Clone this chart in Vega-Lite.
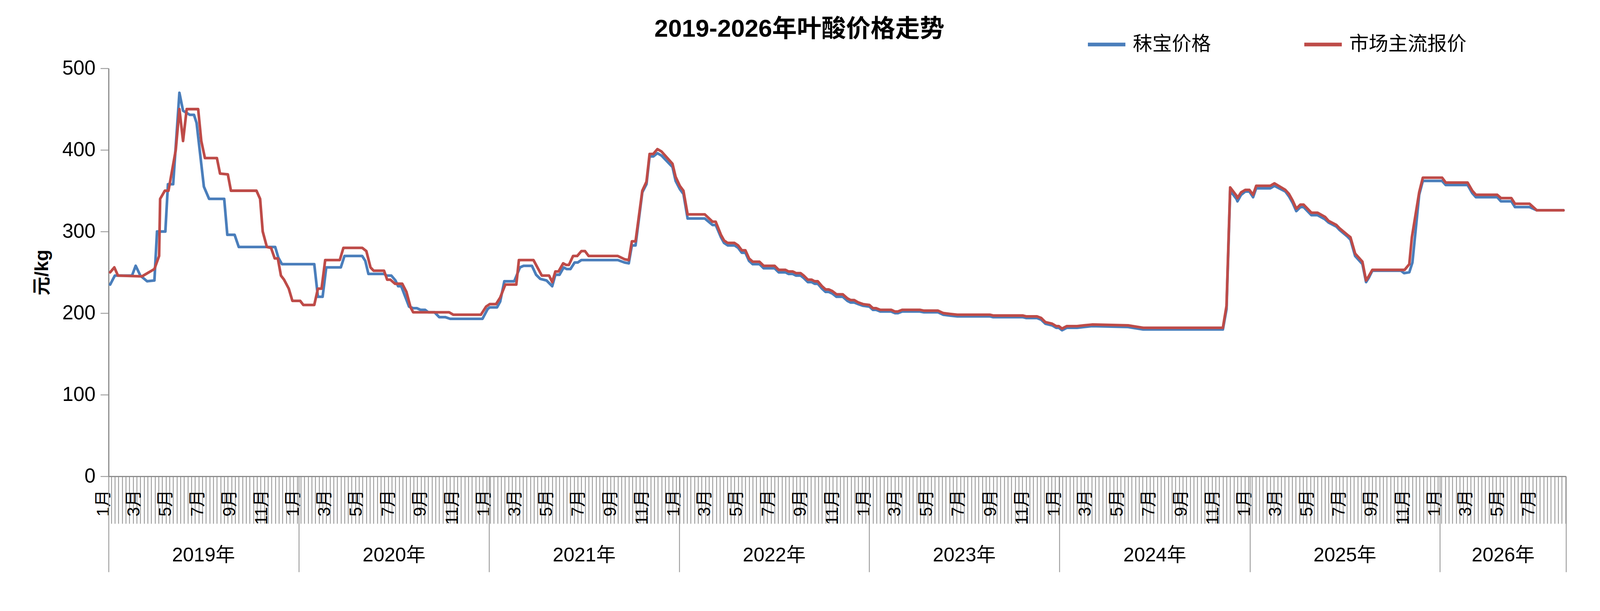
{
  "$schema": "https://vega.github.io/schema/vega-lite/v6.json",
  "autosize": {"type": "none"},
  "width": 3731,
  "height": 1045,
  "padding": {"left": 278, "top": 175, "right": 85, "bottom": 280},
  "background": "white",
  "title": {
    "text": "2019-2026年叶酸价格走势",
    "fontSize": 63,
    "fontWeight": "bold",
    "color": "black",
    "anchor": "middle",
    "frame": "group",
    "dx": -97,
    "dy": 96,
    "offset": 0,
    "baseline": "alphabetic"
  },
  "datasets": {
    "mobao": [
      {"date": "2019-01-04", "price": 235}, {"date": "2019-01-13", "price": 246}, {"date": "2019-02-15", "price": 246},
      {"date": "2019-02-22", "price": 258}, {"date": "2019-03-03", "price": 246}, {"date": "2019-03-16", "price": 239},
      {"date": "2019-03-30", "price": 240}, {"date": "2019-04-04", "price": 300}, {"date": "2019-04-20", "price": 300},
      {"date": "2019-04-25", "price": 358}, {"date": "2019-05-05", "price": 358}, {"date": "2019-05-17", "price": 470},
      {"date": "2019-05-24", "price": 448}, {"date": "2019-06-06", "price": 443}, {"date": "2019-06-14", "price": 443},
      {"date": "2019-06-19", "price": 433}, {"date": "2019-07-03", "price": 355}, {"date": "2019-07-13", "price": 340},
      {"date": "2019-08-11", "price": 340}, {"date": "2019-08-17", "price": 296}, {"date": "2019-08-31", "price": 296},
      {"date": "2019-09-08", "price": 281}, {"date": "2019-11-17", "price": 281}, {"date": "2019-11-23", "price": 268},
      {"date": "2019-11-30", "price": 260}, {"date": "2020-01-31", "price": 260}, {"date": "2020-02-07", "price": 220},
      {"date": "2020-02-16", "price": 220}, {"date": "2020-02-23", "price": 256}, {"date": "2020-03-22", "price": 256},
      {"date": "2020-03-29", "price": 270}, {"date": "2020-05-02", "price": 270}, {"date": "2020-05-08", "price": 264},
      {"date": "2020-05-14", "price": 248}, {"date": "2020-06-13", "price": 248}, {"date": "2020-06-18", "price": 246},
      {"date": "2020-06-27", "price": 246}, {"date": "2020-07-05", "price": 240}, {"date": "2020-07-10", "price": 233},
      {"date": "2020-07-16", "price": 233}, {"date": "2020-07-22", "price": 223}, {"date": "2020-07-31", "price": 208},
      {"date": "2020-08-08", "price": 206}, {"date": "2020-08-15", "price": 206}, {"date": "2020-08-22", "price": 204},
      {"date": "2020-08-31", "price": 204}, {"date": "2020-09-06", "price": 201}, {"date": "2020-09-18", "price": 201},
      {"date": "2020-09-27", "price": 195}, {"date": "2020-10-09", "price": 195}, {"date": "2020-10-18", "price": 193},
      {"date": "2020-12-19", "price": 193}, {"date": "2020-12-29", "price": 205}, {"date": "2021-01-02", "price": 207},
      {"date": "2021-01-16", "price": 207}, {"date": "2021-01-22", "price": 214}, {"date": "2021-01-30", "price": 239},
      {"date": "2021-02-18", "price": 239}, {"date": "2021-03-01", "price": 256}, {"date": "2021-03-08", "price": 258},
      {"date": "2021-03-24", "price": 258}, {"date": "2021-04-01", "price": 247}, {"date": "2021-04-09", "price": 242},
      {"date": "2021-04-21", "price": 240}, {"date": "2021-05-02", "price": 233}, {"date": "2021-05-08", "price": 247},
      {"date": "2021-05-16", "price": 247}, {"date": "2021-05-24", "price": 256}, {"date": "2021-05-30", "price": 254},
      {"date": "2021-06-06", "price": 254}, {"date": "2021-06-14", "price": 262}, {"date": "2021-06-20", "price": 262},
      {"date": "2021-06-27", "price": 265}, {"date": "2021-09-05", "price": 265}, {"date": "2021-09-18", "price": 262},
      {"date": "2021-09-26", "price": 261}, {"date": "2021-10-02", "price": 283}, {"date": "2021-10-09", "price": 283},
      {"date": "2021-10-22", "price": 348}, {"date": "2021-10-30", "price": 358}, {"date": "2021-11-05", "price": 392},
      {"date": "2021-11-12", "price": 392}, {"date": "2021-11-20", "price": 396}, {"date": "2021-11-28", "price": 393},
      {"date": "2021-12-19", "price": 379}, {"date": "2021-12-25", "price": 362}, {"date": "2022-01-02", "price": 352},
      {"date": "2022-01-09", "price": 346}, {"date": "2022-01-17", "price": 316}, {"date": "2022-02-19", "price": 316},
      {"date": "2022-03-06", "price": 308}, {"date": "2022-03-12", "price": 308}, {"date": "2022-03-22", "price": 293},
      {"date": "2022-03-28", "price": 286}, {"date": "2022-04-04", "price": 283}, {"date": "2022-04-17", "price": 283},
      {"date": "2022-04-24", "price": 280}, {"date": "2022-05-01", "price": 274}, {"date": "2022-05-08", "price": 274},
      {"date": "2022-05-15", "price": 264}, {"date": "2022-05-22", "price": 260}, {"date": "2022-06-04", "price": 260},
      {"date": "2022-06-12", "price": 255}, {"date": "2022-07-03", "price": 255}, {"date": "2022-07-11", "price": 250},
      {"date": "2022-07-24", "price": 250}, {"date": "2022-07-30", "price": 248}, {"date": "2022-08-07", "price": 248},
      {"date": "2022-08-13", "price": 246}, {"date": "2022-08-22", "price": 246}, {"date": "2022-08-28", "price": 243},
      {"date": "2022-09-05", "price": 238}, {"date": "2022-09-12", "price": 238}, {"date": "2022-09-18", "price": 236},
      {"date": "2022-09-24", "price": 236}, {"date": "2022-10-02", "price": 230}, {"date": "2022-10-09", "price": 226},
      {"date": "2022-10-15", "price": 226}, {"date": "2022-10-22", "price": 224}, {"date": "2022-10-30", "price": 220},
      {"date": "2022-11-11", "price": 220}, {"date": "2022-11-20", "price": 215}, {"date": "2022-11-26", "price": 213},
      {"date": "2022-12-03", "price": 213}, {"date": "2022-12-11", "price": 211}, {"date": "2022-12-20", "price": 209},
      {"date": "2023-01-01", "price": 208}, {"date": "2023-01-08", "price": 204}, {"date": "2023-01-14", "price": 204},
      {"date": "2023-01-22", "price": 202}, {"date": "2023-02-12", "price": 202}, {"date": "2023-02-19", "price": 200},
      {"date": "2023-02-25", "price": 200}, {"date": "2023-03-05", "price": 202}, {"date": "2023-04-08", "price": 202},
      {"date": "2023-04-16", "price": 201}, {"date": "2023-05-13", "price": 201}, {"date": "2023-05-23", "price": 198},
      {"date": "2023-06-05", "price": 197}, {"date": "2023-06-19", "price": 196}, {"date": "2023-08-21", "price": 196},
      {"date": "2023-08-27", "price": 195}, {"date": "2023-10-23", "price": 195}, {"date": "2023-10-29", "price": 194},
      {"date": "2023-11-19", "price": 194}, {"date": "2023-11-27", "price": 192}, {"date": "2023-12-05", "price": 187},
      {"date": "2023-12-18", "price": 185}, {"date": "2023-12-26", "price": 182}, {"date": "2023-12-31", "price": 182},
      {"date": "2024-01-06", "price": 179}, {"date": "2024-01-15", "price": 182}, {"date": "2024-02-04", "price": 182},
      {"date": "2024-02-17", "price": 183}, {"date": "2024-03-04", "price": 184}, {"date": "2024-05-12", "price": 183},
      {"date": "2024-05-21", "price": 182}, {"date": "2024-06-10", "price": 180}, {"date": "2024-11-10", "price": 180},
      {"date": "2024-11-17", "price": 205}, {"date": "2024-11-24", "price": 350}, {"date": "2024-12-06", "price": 340},
      {"date": "2024-12-08", "price": 337}, {"date": "2024-12-15", "price": 345}, {"date": "2024-12-23", "price": 349},
      {"date": "2024-12-31", "price": 349}, {"date": "2025-01-07", "price": 342}, {"date": "2025-01-13", "price": 353},
      {"date": "2025-02-09", "price": 353}, {"date": "2025-02-17", "price": 356}, {"date": "2025-03-10", "price": 349},
      {"date": "2025-03-17", "price": 343}, {"date": "2025-03-24", "price": 335}, {"date": "2025-03-31", "price": 325},
      {"date": "2025-04-08", "price": 330}, {"date": "2025-04-14", "price": 330}, {"date": "2025-04-29", "price": 320},
      {"date": "2025-05-11", "price": 320}, {"date": "2025-05-25", "price": 315}, {"date": "2025-06-01", "price": 311},
      {"date": "2025-06-16", "price": 306}, {"date": "2025-06-22", "price": 302}, {"date": "2025-07-07", "price": 294},
      {"date": "2025-07-13", "price": 290}, {"date": "2025-07-22", "price": 270}, {"date": "2025-08-05", "price": 260},
      {"date": "2025-08-12", "price": 238}, {"date": "2025-08-17", "price": 243}, {"date": "2025-08-24", "price": 252},
      {"date": "2025-10-18", "price": 252}, {"date": "2025-10-24", "price": 249}, {"date": "2025-11-03", "price": 250},
      {"date": "2025-11-09", "price": 262}, {"date": "2025-11-22", "price": 345}, {"date": "2025-11-29", "price": 362},
      {"date": "2026-01-05", "price": 362}, {"date": "2026-01-12", "price": 357}, {"date": "2026-02-23", "price": 357},
      {"date": "2026-03-04", "price": 347}, {"date": "2026-03-11", "price": 342}, {"date": "2026-04-21", "price": 342},
      {"date": "2026-04-28", "price": 337}, {"date": "2026-05-18", "price": 337}, {"date": "2026-05-25", "price": 330},
      {"date": "2026-06-22", "price": 330}, {"date": "2026-07-06", "price": 326}, {"date": "2026-08-26", "price": 326}
    ],
    "market": [
      {"date": "2019-01-04", "price": 250}, {"date": "2019-01-12", "price": 256}, {"date": "2019-01-19", "price": 246},
      {"date": "2019-03-06", "price": 245}, {"date": "2019-03-30", "price": 254}, {"date": "2019-04-08", "price": 270},
      {"date": "2019-04-10", "price": 340}, {"date": "2019-04-19", "price": 350}, {"date": "2019-04-26", "price": 350},
      {"date": "2019-05-10", "price": 400}, {"date": "2019-05-17", "price": 450}, {"date": "2019-05-24", "price": 411},
      {"date": "2019-05-31", "price": 450}, {"date": "2019-06-22", "price": 450}, {"date": "2019-06-28", "price": 411},
      {"date": "2019-07-05", "price": 390}, {"date": "2019-07-28", "price": 390}, {"date": "2019-08-03", "price": 371},
      {"date": "2019-08-18", "price": 370}, {"date": "2019-08-24", "price": 350}, {"date": "2019-10-12", "price": 350},
      {"date": "2019-10-19", "price": 340}, {"date": "2019-10-24", "price": 300}, {"date": "2019-11-01", "price": 281},
      {"date": "2019-11-09", "price": 280}, {"date": "2019-11-16", "price": 267}, {"date": "2019-11-22", "price": 267},
      {"date": "2019-11-28", "price": 246}, {"date": "2019-12-04", "price": 241}, {"date": "2019-12-13", "price": 230},
      {"date": "2019-12-20", "price": 215}, {"date": "2020-01-04", "price": 215}, {"date": "2020-01-10", "price": 210},
      {"date": "2020-01-31", "price": 210}, {"date": "2020-02-07", "price": 230}, {"date": "2020-02-14", "price": 230},
      {"date": "2020-02-21", "price": 265}, {"date": "2020-03-20", "price": 265}, {"date": "2020-03-27", "price": 280},
      {"date": "2020-05-02", "price": 280}, {"date": "2020-05-10", "price": 276}, {"date": "2020-05-18", "price": 256},
      {"date": "2020-05-24", "price": 252}, {"date": "2020-06-13", "price": 252}, {"date": "2020-06-19", "price": 241},
      {"date": "2020-06-25", "price": 241}, {"date": "2020-07-04", "price": 236}, {"date": "2020-07-18", "price": 236},
      {"date": "2020-07-26", "price": 226}, {"date": "2020-08-03", "price": 207}, {"date": "2020-08-08", "price": 201},
      {"date": "2020-10-16", "price": 201}, {"date": "2020-10-24", "price": 198}, {"date": "2020-12-16", "price": 198},
      {"date": "2020-12-26", "price": 208}, {"date": "2021-01-02", "price": 211}, {"date": "2021-01-14", "price": 211},
      {"date": "2021-01-22", "price": 219}, {"date": "2021-02-01", "price": 235}, {"date": "2021-02-22", "price": 235},
      {"date": "2021-02-27", "price": 265}, {"date": "2021-03-27", "price": 265}, {"date": "2021-04-12", "price": 246},
      {"date": "2021-04-26", "price": 246}, {"date": "2021-05-02", "price": 238}, {"date": "2021-05-08", "price": 251},
      {"date": "2021-05-14", "price": 251}, {"date": "2021-05-23", "price": 261}, {"date": "2021-05-29", "price": 259},
      {"date": "2021-06-03", "price": 259}, {"date": "2021-06-11", "price": 270}, {"date": "2021-06-19", "price": 270},
      {"date": "2021-06-27", "price": 276}, {"date": "2021-07-04", "price": 276}, {"date": "2021-07-11", "price": 270},
      {"date": "2021-09-05", "price": 270}, {"date": "2021-09-18", "price": 266}, {"date": "2021-09-26", "price": 265},
      {"date": "2021-10-02", "price": 288}, {"date": "2021-10-09", "price": 288}, {"date": "2021-10-22", "price": 350},
      {"date": "2021-10-30", "price": 361}, {"date": "2021-11-05", "price": 395}, {"date": "2021-11-12", "price": 395},
      {"date": "2021-11-20", "price": 401}, {"date": "2021-11-28", "price": 398}, {"date": "2021-12-19", "price": 383},
      {"date": "2021-12-25", "price": 367}, {"date": "2022-01-02", "price": 356}, {"date": "2022-01-09", "price": 350},
      {"date": "2022-01-17", "price": 321}, {"date": "2022-02-19", "price": 321}, {"date": "2022-03-06", "price": 312},
      {"date": "2022-03-12", "price": 312}, {"date": "2022-03-22", "price": 296}, {"date": "2022-03-28", "price": 289},
      {"date": "2022-04-04", "price": 286}, {"date": "2022-04-17", "price": 286}, {"date": "2022-04-24", "price": 283},
      {"date": "2022-05-01", "price": 277}, {"date": "2022-05-08", "price": 277}, {"date": "2022-05-15", "price": 267},
      {"date": "2022-05-22", "price": 263}, {"date": "2022-06-04", "price": 263}, {"date": "2022-06-12", "price": 258},
      {"date": "2022-07-03", "price": 258}, {"date": "2022-07-11", "price": 253}, {"date": "2022-07-24", "price": 253},
      {"date": "2022-07-30", "price": 251}, {"date": "2022-08-07", "price": 251}, {"date": "2022-08-13", "price": 249},
      {"date": "2022-08-22", "price": 249}, {"date": "2022-08-28", "price": 246}, {"date": "2022-09-05", "price": 241},
      {"date": "2022-09-12", "price": 241}, {"date": "2022-09-18", "price": 239}, {"date": "2022-09-24", "price": 239},
      {"date": "2022-10-02", "price": 233}, {"date": "2022-10-09", "price": 229}, {"date": "2022-10-15", "price": 229},
      {"date": "2022-10-22", "price": 227}, {"date": "2022-10-30", "price": 223}, {"date": "2022-11-11", "price": 223},
      {"date": "2022-11-20", "price": 218}, {"date": "2022-11-26", "price": 216}, {"date": "2022-12-03", "price": 216},
      {"date": "2022-12-11", "price": 213}, {"date": "2022-12-20", "price": 211}, {"date": "2023-01-01", "price": 210},
      {"date": "2023-01-08", "price": 206}, {"date": "2023-01-14", "price": 206}, {"date": "2023-01-22", "price": 204},
      {"date": "2023-02-12", "price": 204}, {"date": "2023-02-19", "price": 202}, {"date": "2023-02-25", "price": 202},
      {"date": "2023-03-05", "price": 204}, {"date": "2023-04-08", "price": 204}, {"date": "2023-04-16", "price": 203},
      {"date": "2023-05-13", "price": 203}, {"date": "2023-05-23", "price": 200}, {"date": "2023-06-05", "price": 199},
      {"date": "2023-06-19", "price": 198}, {"date": "2023-08-21", "price": 198}, {"date": "2023-08-27", "price": 197},
      {"date": "2023-10-23", "price": 197}, {"date": "2023-10-29", "price": 196}, {"date": "2023-11-19", "price": 196},
      {"date": "2023-11-27", "price": 194}, {"date": "2023-12-05", "price": 189}, {"date": "2023-12-18", "price": 187},
      {"date": "2023-12-26", "price": 184}, {"date": "2023-12-31", "price": 184}, {"date": "2024-01-06", "price": 181},
      {"date": "2024-01-15", "price": 184}, {"date": "2024-02-04", "price": 184}, {"date": "2024-02-17", "price": 185},
      {"date": "2024-03-04", "price": 186}, {"date": "2024-05-12", "price": 185}, {"date": "2024-05-21", "price": 184},
      {"date": "2024-06-10", "price": 182}, {"date": "2024-11-10", "price": 182}, {"date": "2024-11-17", "price": 209},
      {"date": "2024-11-24", "price": 354}, {"date": "2024-12-06", "price": 344}, {"date": "2024-12-08", "price": 341},
      {"date": "2024-12-15", "price": 348}, {"date": "2024-12-23", "price": 351}, {"date": "2024-12-31", "price": 351},
      {"date": "2025-01-07", "price": 345}, {"date": "2025-01-13", "price": 356}, {"date": "2025-02-09", "price": 356},
      {"date": "2025-02-17", "price": 359}, {"date": "2025-03-10", "price": 351}, {"date": "2025-03-17", "price": 346},
      {"date": "2025-03-24", "price": 338}, {"date": "2025-03-31", "price": 328}, {"date": "2025-04-08", "price": 333},
      {"date": "2025-04-14", "price": 333}, {"date": "2025-04-29", "price": 323}, {"date": "2025-05-11", "price": 323},
      {"date": "2025-05-25", "price": 318}, {"date": "2025-06-01", "price": 313}, {"date": "2025-06-16", "price": 308},
      {"date": "2025-06-22", "price": 304}, {"date": "2025-07-07", "price": 296}, {"date": "2025-07-13", "price": 293},
      {"date": "2025-07-22", "price": 273}, {"date": "2025-08-05", "price": 263}, {"date": "2025-08-12", "price": 240},
      {"date": "2025-08-17", "price": 245}, {"date": "2025-08-24", "price": 253}, {"date": "2025-10-25", "price": 253},
      {"date": "2025-11-03", "price": 260}, {"date": "2025-11-08", "price": 293}, {"date": "2025-11-22", "price": 348},
      {"date": "2025-11-29", "price": 366}, {"date": "2026-01-05", "price": 366}, {"date": "2026-01-12", "price": 360},
      {"date": "2026-02-23", "price": 360}, {"date": "2026-03-04", "price": 350}, {"date": "2026-03-11", "price": 345},
      {"date": "2026-04-21", "price": 345}, {"date": "2026-04-28", "price": 341}, {"date": "2026-05-18", "price": 341},
      {"date": "2026-05-25", "price": 334}, {"date": "2026-06-22", "price": 334}, {"date": "2026-07-06", "price": 326},
      {"date": "2026-08-26", "price": 326}
    ]
  },
  "layer": [
    {
      "data": {"name": "mobao"},
      "mark": {"type": "line", "strokeWidth": 6.8, "strokeCap": "round", "strokeJoin": "round"},
      "encoding": {
        "x": {
          "field": "date",
          "type": "temporal",
          "scale": {
            "type": "utc",
            "nice": false,
            "domain": [
              {"year": 2019, "month": 1, "date": 1, "utc": true},
              {"year": 2026, "month": 8, "date": 31, "utc": true}
            ]
          },
          "axis": {
            "orient": "bottom",
            "title": null,
            "labels": false,
            "grid": false,
            "tickCount": {"interval": "week", "step": 1},
            "tickSize": 121,
            "tickWidth": 2,
            "tickColor": "#8c8c8c",
            "domainColor": "#8c8c8c",
            "domainWidth": 3
          }
        },
        "y": {
          "field": "price",
          "type": "quantitative",
          "scale": {"domain": [0, 500], "nice": false},
          "axis": {
            "title": "元/kg",
            "titleFontSize": 48,
            "titleFontWeight": "bold",
            "titleColor": "black",
            "titlePadding": 26,
            "values": [0, 100, 200, 300, 400, 500],
            "grid": false,
            "tickSize": 21,
            "tickWidth": 2,
            "tickColor": "#8c8c8c",
            "domainColor": "#8c8c8c",
            "domainWidth": 3,
            "labelFontSize": 51,
            "labelPadding": 13,
            "labelColor": "black"
          }
        },
        "color": {
          "datum": "秣宝价格",
          "type": "nominal",
          "scale": {"domain": ["秣宝价格", "市场主流报价"], "range": ["#4A7EBB", "#BE4B48"]},
          "legend": {
            "title": null,
            "orient": "none",
            "legendX": 2502,
            "legendY": -114,
            "direction": "horizontal",
            "symbolType": "stroke",
            "symbolSize": 9216,
            "symbolStrokeWidth": 9.6,
            "labelFontSize": 50,
            "labelColor": "black",
            "labelOffset": 14,
            "labelLimit": 0,
            "columnPadding": 219
          }
        }
      }
    },
    {
      "data": {"name": "market"},
      "mark": {"type": "line", "strokeWidth": 6.8, "strokeCap": "round", "strokeJoin": "round"},
      "encoding": {
        "x": {"field": "date", "type": "temporal", "axis": null},
        "y": {"field": "price", "type": "quantitative"},
        "color": {"datum": "市场主流报价", "type": "nominal"}
      }
    },
    {
      "data": {"name": "mobao"},
      "mark": {"type": "point", "opacity": 0, "size": 0},
      "encoding": {
        "x": {
          "field": "date",
          "type": "temporal",
          "axis": {
            "orient": "bottom",
            "title": null,
            "grid": false,
            "domain": false,
            "ticks": false,
            "tickSize": 0,
            "tickCount": {"interval": "month", "step": 2},
            "format": "%-m月",
            "labelAngle": -90,
            "labelAlign": "right",
            "labelBaseline": "alphabetic",
            "labelPadding": 34,
            "labelFontSize": 44,
            "labelColor": "black",
            "labelOverlap": false,
            "labelFlush": false,
            "labelBound": false
          }
        }
      }
    },
    {
      "data": {"name": "mobao"},
      "mark": {"type": "point", "opacity": 0, "size": 0},
      "encoding": {
        "x": {
          "field": "date",
          "type": "temporal",
          "axis": {
            "orient": "bottom",
            "title": null,
            "grid": false,
            "domain": false,
            "labels": false,
            "values": [
              {"year": 2019, "month": 1, "date": 1, "utc": true},
              {"year": 2020, "month": 1, "date": 1, "utc": true},
              {"year": 2021, "month": 1, "date": 1, "utc": true},
              {"year": 2022, "month": 1, "date": 1, "utc": true},
              {"year": 2023, "month": 1, "date": 1, "utc": true},
              {"year": 2024, "month": 1, "date": 1, "utc": true},
              {"year": 2025, "month": 1, "date": 1, "utc": true},
              {"year": 2026, "month": 1, "date": 1, "utc": true},
              {"year": 2026, "month": 8, "date": 31, "utc": true}
            ],
            "tickSize": 245,
            "tickWidth": 2,
            "tickColor": "#8c8c8c"
          }
        }
      }
    },
    {
      "data": {"name": "mobao"},
      "mark": {"type": "point", "opacity": 0, "size": 0},
      "encoding": {
        "x": {
          "field": "date",
          "type": "temporal",
          "axis": {
            "orient": "bottom",
            "title": null,
            "grid": false,
            "domain": false,
            "ticks": false,
            "tickSize": 0,
            "values": [
              {"year": 2019, "month": 7, "date": 2, "utc": true},
              {"year": 2020, "month": 7, "date": 2, "utc": true},
              {"year": 2021, "month": 7, "date": 2, "utc": true},
              {"year": 2022, "month": 7, "date": 2, "utc": true},
              {"year": 2023, "month": 7, "date": 2, "utc": true},
              {"year": 2024, "month": 7, "date": 2, "utc": true},
              {"year": 2025, "month": 7, "date": 2, "utc": true},
              {"year": 2026, "month": 5, "date": 2, "utc": true}
            ],
            "format": "%Y年",
            "labelAngle": 0,
            "labelAlign": "center",
            "labelBaseline": "alphabetic",
            "labelPadding": 217,
            "labelFontSize": 50,
            "labelColor": "black",
            "labelOverlap": false,
            "labelFlush": false,
            "labelBound": false
          }
        }
      }
    }
  ],
  "resolve": {"axis": {"x": "independent"}},
  "config": {
    "font": "Liberation Sans, Noto Sans CJK SC",
    "view": {"stroke": null}
  }
}
